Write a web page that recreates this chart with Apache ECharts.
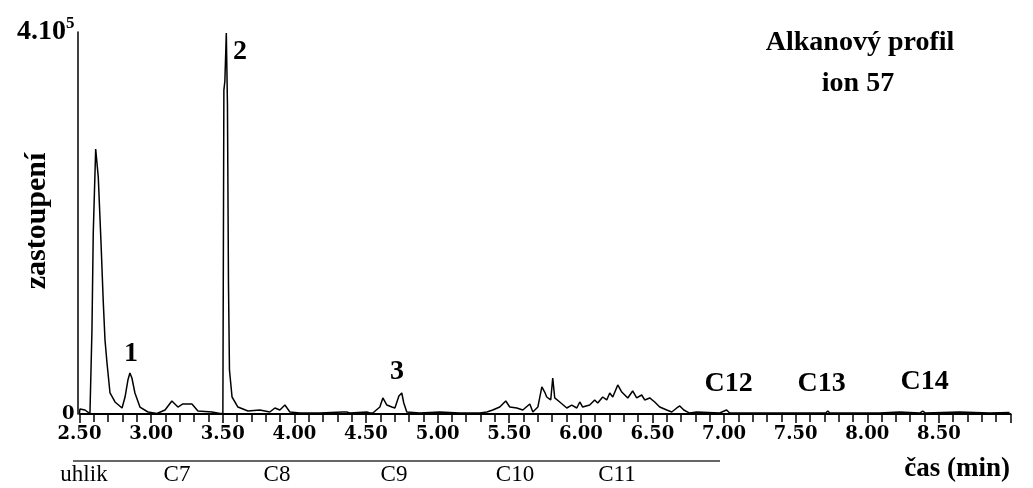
<!DOCTYPE html>
<html>
<head>
<meta charset="utf-8">
<script src="https://cdn.jsdelivr.net/npm/echarts@6/dist/echarts.min.js"></script>
<style>
html,body{margin:0;padding:0;background:#fff;}
#chart{width:1033px;height:488px;}
</style>
</head>
<body>
<div id="chart"></div>
<script>
// retention time (min)
var times = [
 2.500,2.503,2.538,2.573,2.585,2.587,2.596,2.613,2.626,2.631,
 2.650,2.666,2.678,2.692,2.713,2.748,2.797,2.818,2.838,2.852,
 2.866,2.887,2.922,2.978,3.041,3.097,3.145,3.187,3.222,3.250,
 3.285,3.327,3.425,3.481,3.501,3.508,3.515,3.525,3.533,3.540,
 3.547,3.565,3.606,3.676,3.759,3.829,3.864,3.899,3.934,3.969,
 4.039,4.178,4.338,4.366,4.387,4.506,4.527,4.548,4.597,4.618,
 4.646,4.681,4.702,4.730,4.750,4.764,4.785,4.876,5.015,5.155,
 5.294,5.344,5.385,5.434,5.476,5.504,5.553,5.595,5.644,5.665,
 5.700,5.728,5.748,5.762,5.790,5.804,5.818,5.853,5.902,5.937,
 5.972,5.993,6.013,6.062,6.097,6.118,6.153,6.181,6.202,6.223,
 6.258,6.286,6.307,6.328,6.362,6.390,6.425,6.446,6.481,6.516,
 6.551,6.600,6.635,6.670,6.691,6.719,6.760,6.809,6.969,7.018,
 7.039,7.249,7.528,7.710,7.724,7.738,8.086,8.226,8.366,8.387,
 8.407,8.644,8.854,8.993
];
// abundance (ion 57)
var intensity = [
 1000,5200,4200,500,500,88000,189500,277500,278500,248100,
 180100,117300,77500,53400,22000,12600,6300,17800,35600,42900,
 37700,22000,7300,2100,500,4200,13600,7300,10500,10500,
 10500,3100,2100,500,500,339200,348700,399000,323500,138200,
 46100,17800,7300,3100,4200,2100,6300,4200,9400,2100,
 1000,1000,2100,2100,1000,2100,1000,1000,7300,16800,
 9400,7300,6300,18800,22000,11500,2100,1000,2100,1000,
 1000,2100,4200,7300,13600,7300,6300,4200,10500,2100,
 7300,28300,23000,17800,14700,37700,16800,12600,6300,9400,
 6300,12600,7300,9400,14700,11500,17800,14700,22000,17800,
 30400,23000,19900,16800,24100,16800,19900,14700,16800,12600,
 7300,4200,2100,6300,8400,4200,1000,2100,1000,4200,
 1000,1000,1000,1000,3100,1000,1000,2100,1000,3100,
 1000,2100,1000,1500
];
// peak annotations
var peakLabels = ['1','2','3','C12','C13','C14'];
var peakTimes = [2.859, 3.620, 4.716, 7.032, 7.681, 8.400];
var peakLevels = [62800, 379000, 44000, 31400, 31400, 33500];
// carbon-number bar under the axis
var bandLabels = ['uhlik','C7','C8','C9','C10','C11'];
var bandX = [84, 177, 277, 394, 515, 617];

var traceData = times.map(function(t,i){ return [t, intensity[i]]; });
var labelData = peakLabels.map(function(s,i){ return [peakTimes[i], peakLevels[i], s]; });

var serif = '"Liberation Serif", "Times New Roman", serif';
var chart = echarts.init(document.getElementById('chart'), null, {renderer:'canvas'});

var graphics = [
  {type:'text', x:860, y:43, style:{text:'Alkanový profil', fontFamily:serif, fontWeight:'bold', fontSize:28, fill:'#000', align:'center', verticalAlign:'middle'}},
  {type:'text', x:858, y:84, style:{text:'ion 57', fontFamily:serif, fontWeight:'bold', fontSize:28, fill:'#000', align:'center', verticalAlign:'middle'}},
  {type:'text', x:37, y:221, rotation:Math.PI/2, style:{text:'zastoupení', fontFamily:serif, fontWeight:'bold', fontSize:30, fill:'#000', align:'center', verticalAlign:'middle'}},
  {type:'text', x:1010, y:469, style:{text:'čas (min)', fontFamily:serif, fontWeight:'bold', fontSize:27, fill:'#000', align:'right', verticalAlign:'middle'}},
  {type:'line', shape:{x1:73, y1:461, x2:720, y2:461}, style:{stroke:'#333', lineWidth:1.5}}
];
bandLabels.forEach(function(s,i){
  graphics.push({type:'text', x:bandX[i], y:475, style:{text:s, fontFamily:serif, fontSize:23, fill:'#000', align:'center', verticalAlign:'middle'}});
});

var tickStyle = {color:'#000', width:1.5};

chart.setOption({
  animation:false,
  backgroundColor:'#fff',
  grid:{left:79.5, right:22.5, top:32, bottom:74, containLabel:false},
  xAxis:{
    type:'value', min:2.5, max:9.0, interval:0.5,
    axisLine:{show:true, onZero:false, lineStyle:{color:'#000', width:2}},
    axisTick:{show:true, inside:false, length:9, lineStyle:tickStyle},
    minorTick:{show:true, splitNumber:5, length:8, lineStyle:tickStyle},
    splitLine:{show:false}, minorSplitLine:{show:false},
    axisLabel:{
      margin:11, color:'#000', fontFamily:'"DejaVu Serif", serif', fontWeight:'bold', fontSize:18,
      showMaxLabel:false,
      formatter:function(v){ return v > 8.9 ? '' : v.toFixed(2); }
    }
  },
  yAxis:{
    type:'value', min:0, max:400000, interval:400000, offset:2,
    axisLine:{show:true, lineStyle:{color:'#000', width:1.5}},
    axisTick:{show:false},
    splitLine:{show:false},
    axisLabel:{
      margin:3, color:'#000', fontFamily:'"DejaVu Serif", serif', fontWeight:'bold', fontSize:18,
      formatter:function(v){ return v === 0 ? '0' : '{a|4.10}{b|5}'; },
      rich:{
        a:{fontFamily:serif, fontWeight:'bold', fontSize:28, color:'#000'},
        b:{fontFamily:serif, fontWeight:'bold', fontSize:17, color:'#000', padding:[0,0,16,0]}
      }
    }
  },
  series:[
    {type:'line', data:traceData, showSymbol:false, symbol:'none', silent:true,
     lineStyle:{color:'#000', width:1.5}},
    {type:'scatter', data:labelData, symbolSize:0, silent:true,
     itemStyle:{opacity:1},
     label:{show:true, position:'inside', color:'#000', opacity:1, fontFamily:serif, fontWeight:'bold', fontSize:28,
       formatter:function(p){ return p.value[2]; }}}
  ],
  graphic:graphics
});
</script>
</body>
</html>
